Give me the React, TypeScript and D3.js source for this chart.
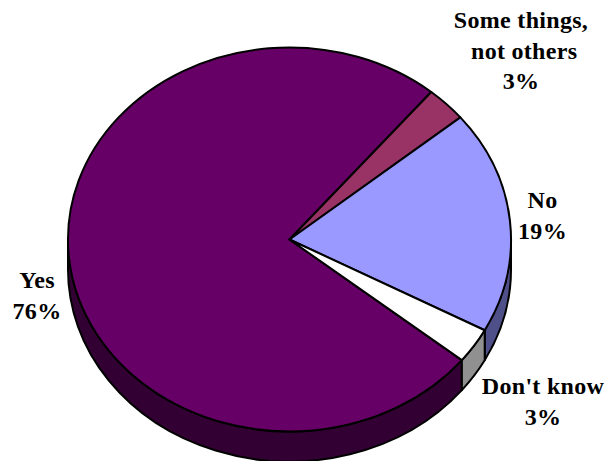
import React from "react";
import * as d3 from "d3";

const categories = ["Yes", "Some things, not others", "No", "Don't know"];
const shares = [76, 3, 19, 3];
const topColors = ["#660066", "#993366", "#9999ff", "#ffffff"];
const wallColors = ["#330033", "#4d1a33", "#4f4f8a", "#909090"];

type Label = { lines: string[]; x: number; y: number };
const labels: Label[] = [
  { lines: ["Some things,", "\u00a0not others", "3%"], x: 521, y: 28 },
  { lines: ["No", "19%"], x: 542.5, y: 208 },
  { lines: ["Don't know", "3%"], x: 543, y: 394 },
  { lines: ["Yes", "76%"], x: 37, y: 288 },
];

const cx = 289.5;
const cy = 239.5;
const rx = 221.5;
const ry = 192;
const depth = 30;
const startDeg = 128.9;
const lineHeight = 30.7;

const pie = d3
  .pie<number>()
  .sort(null)
  .startAngle((startDeg * Math.PI) / 180)
  .endAngle((startDeg * Math.PI) / 180 + 2 * Math.PI);

const arcs = pie(shares);

const px = (a: number) => cx + rx * Math.sin(a);
const py = (a: number) => cy - ry * Math.cos(a);

// Top face of one slice on the tilted ellipse.
function topPath(a0: number, a1: number) {
  const large = a1 - a0 > Math.PI ? 1 : 0;
  return `M${cx},${cy}L${px(a0)},${py(a0)}A${rx},${ry} 0 ${large} 1 ${px(a1)},${py(a1)}Z`;
}

// Outer wall of a slice, clipped to the near half of the rim (90deg to 270deg from the top).
function wallPath(a0: number, a1: number) {
  const twoPi = 2 * Math.PI;
  const near0 = Math.PI / 2;
  const near1 = (3 * Math.PI) / 2;
  const spans: [number, number][] = [];
  for (const k of [0, 1]) {
    const s = Math.max(a0, near0 + k * twoPi);
    const e = Math.min(a1, near1 + k * twoPi);
    if (e > s) spans.push([s, e]);
  }
  return spans
    .map(([s, e]) => {
      const large = e - s > Math.PI ? 1 : 0;
      return (
        `M${px(s)},${py(s)}A${rx},${ry} 0 ${large} 1 ${px(e)},${py(e)}` +
        `L${px(e)},${py(e) + depth}A${rx},${ry} 0 ${large} 0 ${px(s)},${py(s) + depth}Z`
      );
    })
    .join("");
}

export default function App() {
  return (
    <svg
      width={606}
      height={461}
      style={{ position: "absolute", left: 0, top: 0, background: "#fff" }}
      fontFamily="'Liberation Serif', serif"
      fontWeight="bold"
      fontSize={24}
    >
      <g stroke="#000" strokeWidth={2} strokeLinejoin="round">
        {arcs.map((d, i) => (
          <path key={`wall-${categories[i]}`} d={wallPath(d.startAngle, d.endAngle)} fill={wallColors[i]} />
        ))}
        {arcs.map((d, i) => (
          <path key={`top-${categories[i]}`} d={topPath(d.startAngle, d.endAngle)} fill={topColors[i]} />
        ))}
      </g>
      <g fill="#000" textAnchor="middle">
        {labels.map((l) => (
          <text key={l.lines.join(" ")} x={l.x} y={l.y} letterSpacing={0.3}>
            {l.lines.map((t, j) => (
              <tspan key={t} x={l.x} y={l.y + j * lineHeight}>
                {t}
              </tspan>
            ))}
          </text>
        ))}
      </g>
    </svg>
  );
}
